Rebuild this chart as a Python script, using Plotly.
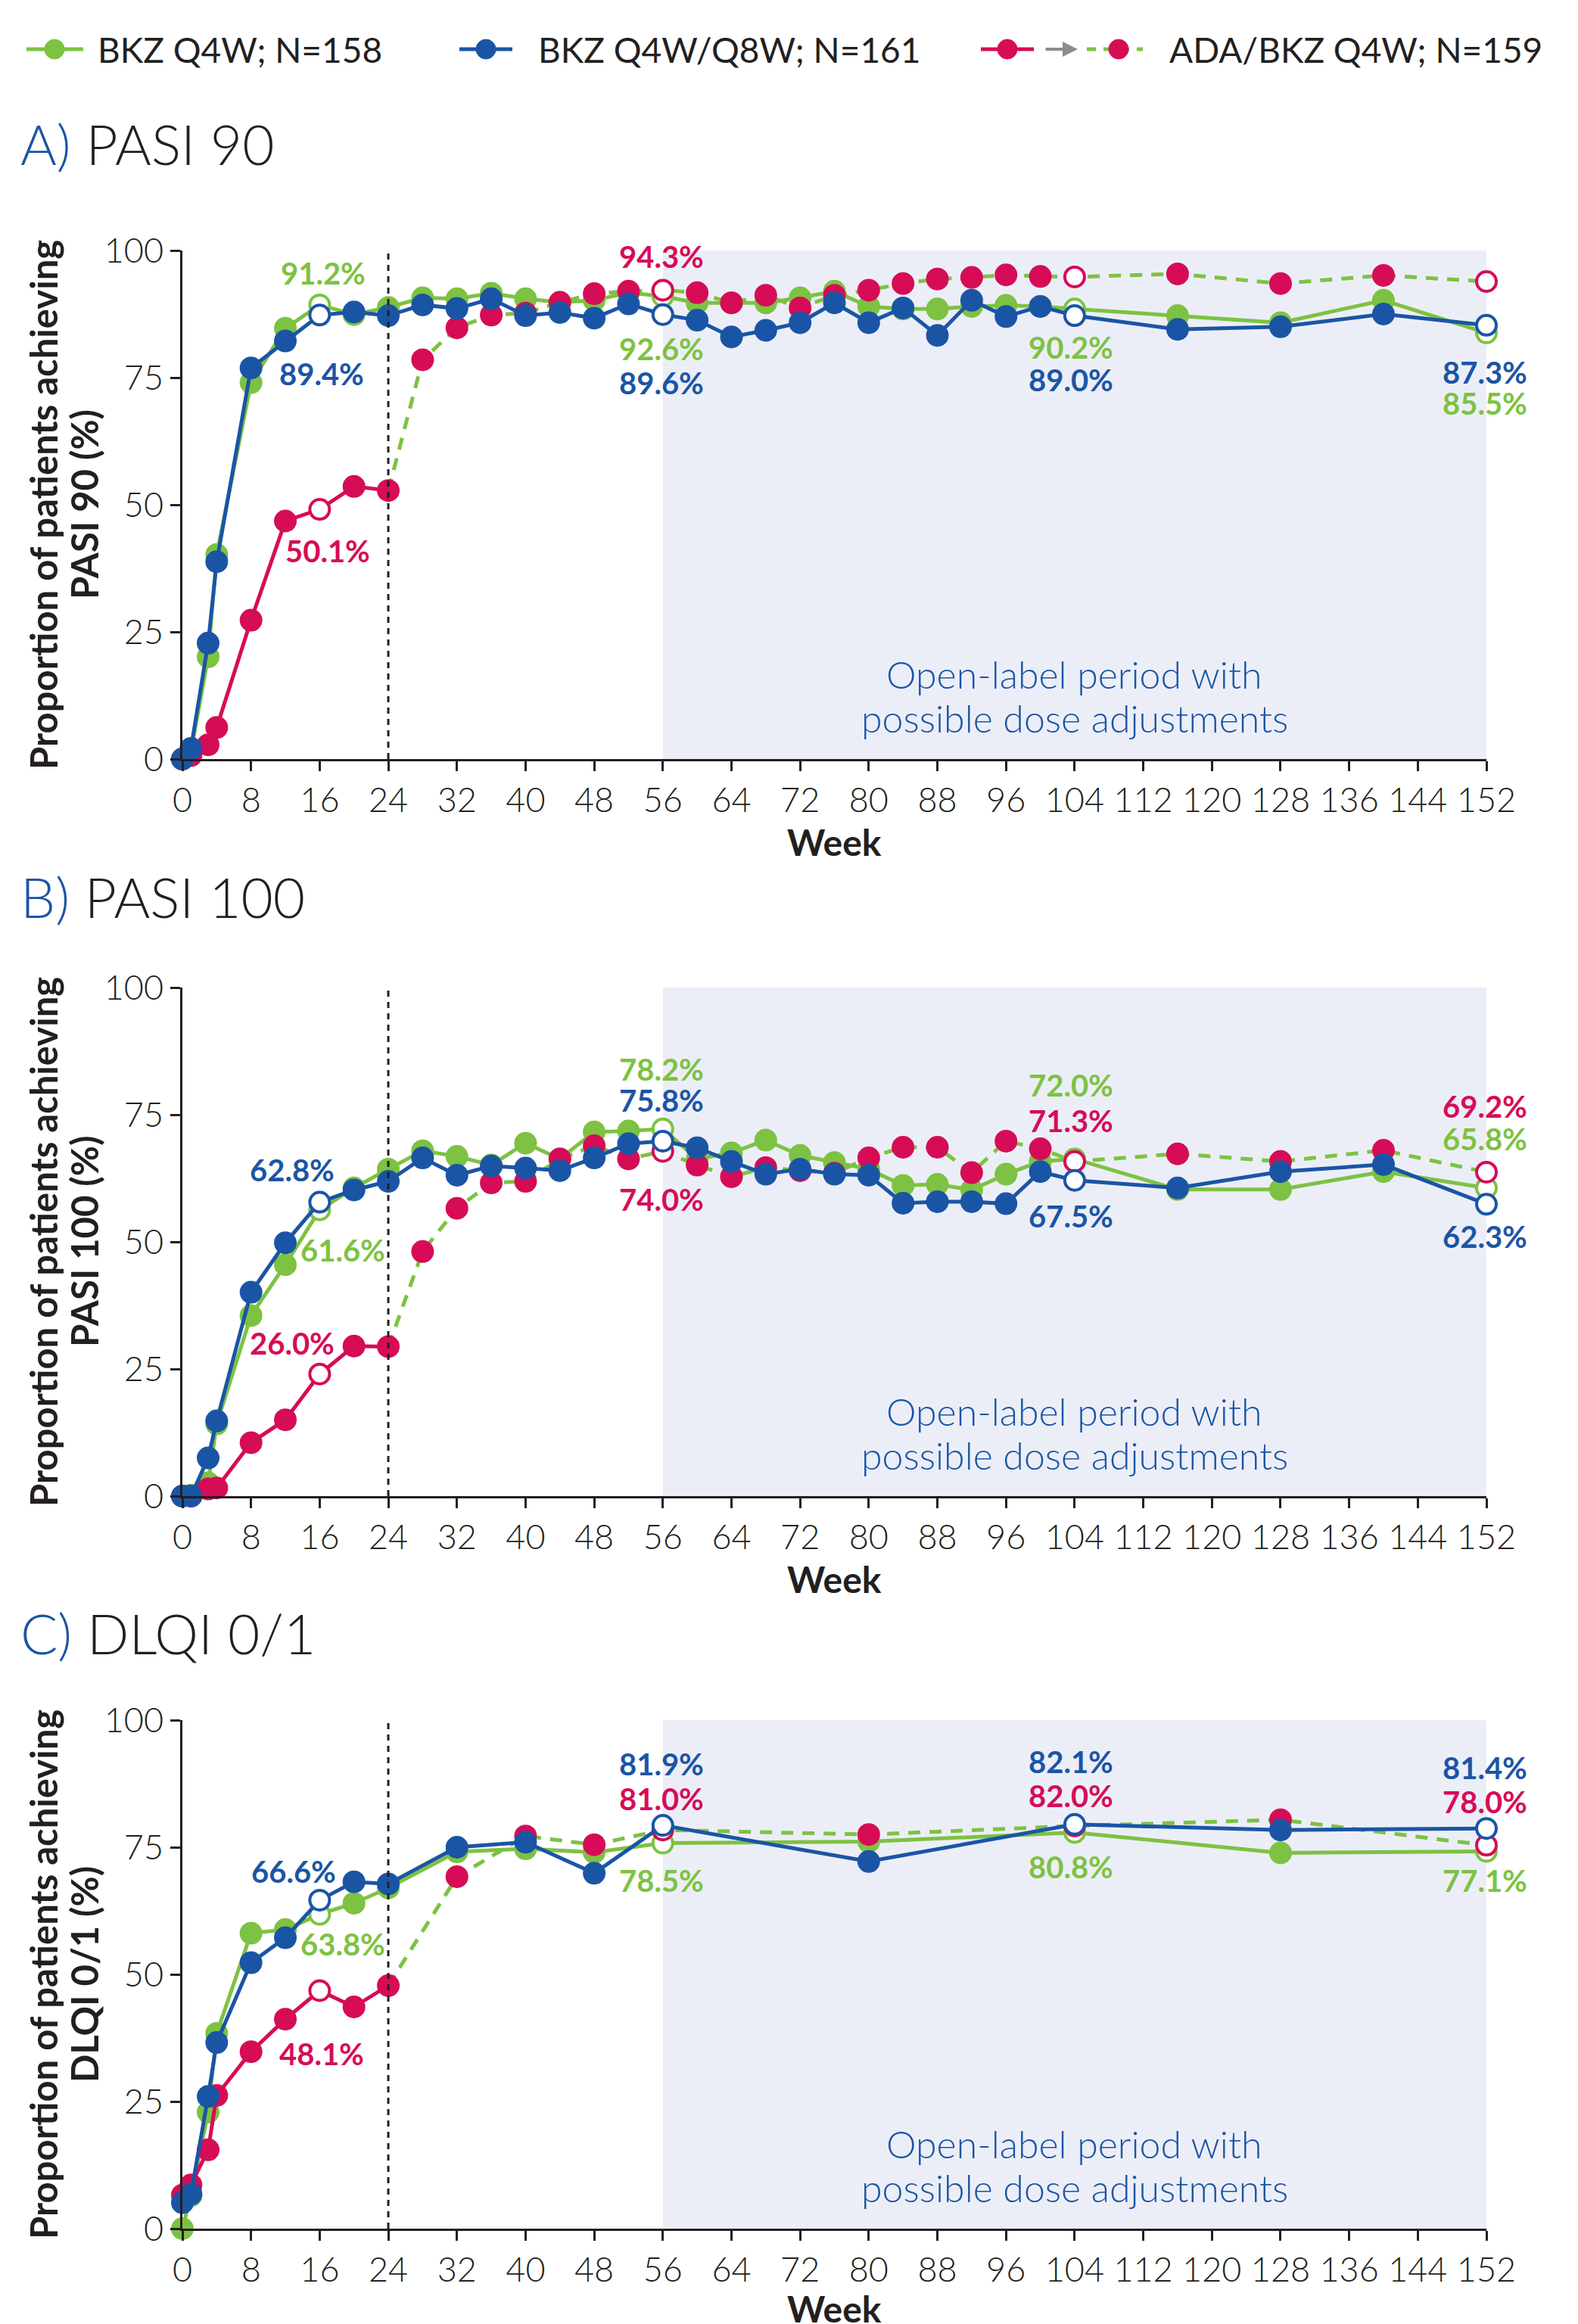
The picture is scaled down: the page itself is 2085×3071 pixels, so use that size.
import plotly.graph_objects as go

W, H = 2085, 3071
FONT = "Lato"
GREEN = "#7DC242"
BLUE = "#1A55A5"
RED = "#D60C57"
SHADE = "#ECEEF7"
INK = "#231F20"

# ---------------- data ----------------
weeks_pasi = [0, 1, 3, 4, 8, 12, 16, 20, 24, 28, 32, 36, 40, 44, 48, 52, 56, 60, 64, 68,
              72, 76, 80, 84, 88, 92, 96, 100, 104, 116, 128, 140, 152]
weeks_dlqi = [0, 1, 3, 4, 8, 12, 16, 20, 24, 32, 40, 48, 56, 80, 104, 128, 152]
open_weeks = [16, 56, 104, 152]
switch_week = 24

pasi90_bkz_q4w = [0, 1.5, 20.1, 40.2, 74.0, 84.7, 89.3, 87.4, 88.8, 90.7, 90.5, 91.6, 90.5, 89.8,
                  90.2, 91.7, 91.0, 89.7, 89.7, 89.7, 90.7, 92.0, 89.0, 88.5, 88.5, 89.0, 89.2,
                  89.0, 88.5, 87.2, 85.8, 90.2, 83.8]
pasi90_bkz_q8w = [0, 2.1, 22.8, 38.8, 76.9, 82.2, 87.3, 87.9, 87.2, 89.3, 88.6, 90.5, 87.2, 87.8,
                  86.7, 89.5, 87.4, 86.3, 83.0, 84.3, 85.8, 89.7, 85.8, 88.7, 83.3, 90.2, 87.0,
                  89.0, 87.2, 84.5, 85.0, 87.5, 85.3]
pasi90_ada_bkz = [0, 0.7, 2.8, 6.2, 27.3, 46.8, 49.1, 53.6, 52.8, 78.5, 84.8, 87.3, 87.7, 89.8,
                  91.5, 92.0, 92.2, 91.7, 89.7, 91.2, 88.7, 91.2, 92.2, 93.5, 94.4, 94.7, 95.2,
                  94.9, 94.8, 95.4, 93.5, 95.1, 93.9]

pasi100_bkz_q4w = [0, 0.2, 2.6, 14.2, 35.5, 45.5, 56.3, 60.6, 64.3, 67.9, 66.8, 65.1, 69.4, 66.3,
                   71.6, 71.8, 72.2, 66.3, 67.5, 70.0, 67.0, 65.6, 64.3, 61.1, 61.3, 60.2, 63.3,
                   65.8, 66.3, 60.3, 60.3, 63.8, 60.6]
pasi100_bkz_q8w = [0, 0, 7.5, 14.8, 40.1, 49.8, 57.8, 60.2, 61.9, 66.5, 63.1, 64.9, 64.5, 64.0,
                   66.5, 69.3, 69.8, 68.5, 65.8, 63.3, 64.3, 63.3, 63.1, 57.6, 57.9, 57.9, 57.5,
                   63.8, 62.1, 60.6, 63.8, 65.2, 57.4]
pasi100_ada_bkz = [0, 0, 1.4, 1.6, 10.5, 15.0, 24.0, 29.5, 29.4, 48.1, 56.6, 61.6, 61.9, 66.3,
                   68.9, 66.3, 67.8, 65.1, 62.8, 64.6, 64.0, 63.5, 66.5, 68.6, 68.6, 63.6, 69.8,
                   68.3, 65.8, 67.3, 65.8, 68.0, 63.7]

dlqi_bkz_q4w = [0, 6.5, 22.9, 38.4, 58.1, 58.8, 61.8, 64.0, 67.0, 74.1, 74.7, 74.0, 75.8, 76.1,
                77.9, 73.9, 74.2]
dlqi_bkz_q8w = [5.1, 6.8, 26.0, 36.6, 52.3, 57.2, 64.6, 68.2, 67.8, 75.0, 76.0, 69.9, 79.3, 72.2,
                79.5, 78.4, 78.7]
dlqi_ada_bkz = [6.6, 8.6, 15.5, 26.2, 34.8, 41.2, 46.8, 43.6, 47.8, 69.2, 77.2, 75.5, 78.4, 77.5,
                79.2, 80.4, 75.4]

legend_labels = ["BKZ Q4W; N=158", "BKZ Q4W/Q8W; N=161", "ADA/BKZ Q4W; N=159"]
panel_letters = ["A)", "B)", "C)"]
panel_names = ["PASI 90", "PASI 100", "DLQI 0/1"]
y_title_line1 = "Proportion of patients achieving"
y_title_line2 = ["PASI 90 (%)", "PASI 100 (%)", "DLQI 0/1 (%)"]
x_ticks = list(range(0, 153, 8))
y_ticks = [0, 25, 50, 75, 100]
shade_weeks = [56, 152]
shade_text = ["Open-label period with", "possible dose adjustments"]

# value labels: (panel, week, y, text, colour key)
value_labels = [
    (0, 16.4, 95.6, "91.2%", "g"), (0, 16.2, 75.7, "89.4%", "b"), (0, 16.9, 40.9, "50.1%", "r"),
    (0, 55.8, 98.8, "94.3%", "r"), (0, 55.8, 80.7, "92.6%", "g"), (0, 55.8, 74.0, "89.6%", "b"),
    (0, 103.6, 100.9, "97.1%", "r"), (0, 103.6, 81.0, "90.2%", "g"), (0, 103.6, 74.6, "89.0%", "b"),
    (0, 151.8, 100.3, "96.1%", "r"), (0, 151.8, 76.0, "87.3%", "b"), (0, 151.8, 69.9, "85.5%", "g"),
    (1, 12.8, 64.1, "62.8%", "b"), (1, 18.7, 48.4, "61.6%", "g"), (1, 12.8, 30.0, "26.0%", "r"),
    (1, 55.8, 84.0, "78.2%", "g"), (1, 55.8, 77.8, "75.8%", "b"), (1, 55.8, 58.3, "74.0%", "r"),
    (1, 103.6, 80.8, "72.0%", "g"), (1, 103.6, 73.8, "71.3%", "r"), (1, 103.6, 55.1, "67.5%", "b"),
    (1, 151.8, 76.7, "69.2%", "r"), (1, 151.8, 70.3, "65.8%", "g"), (1, 151.8, 51.0, "62.3%", "b"),
    (2, 13.0, 70.3, "66.6%", "b"), (2, 18.7, 56.0, "63.8%", "g"), (2, 16.2, 34.4, "48.1%", "r"),
    (2, 55.8, 91.3, "81.9%", "b"), (2, 55.8, 84.5, "81.0%", "r"), (2, 55.8, 68.5, "78.5%", "g"),
    (2, 103.6, 91.8, "82.1%", "b"), (2, 103.6, 85.1, "82.0%", "r"), (2, 103.6, 71.1, "80.8%", "g"),
    (2, 151.8, 90.7, "81.4%", "b"), (2, 151.8, 84.0, "78.0%", "r"), (2, 151.8, 68.5, "77.1%", "g"),
]

# ---------------- layout geometry (pixels, page coords) ----------------
OFF = 8  # browser body margin
PLOT_L, PLOT_R = 241, 1964
panels_px = [(331, 1003), (1305, 1977), (2273, 2945)]
title_y_px = [190, 1185, 2158]
week_y_px = [1112, 2086, 3050]


def PX(x):
    return (x - OFF) / W


def PY(y):
    return 1 - (y - OFF) / H


COLORS = {"g": GREEN, "b": BLUE, "r": RED}
MSIZE = 26
LW = 5

fig = go.Figure()
layout_axes = {}
annotations = []
shapes = []

panel_data = [
    (weeks_pasi, pasi90_bkz_q4w, pasi90_bkz_q8w, pasi90_ada_bkz),
    (weeks_pasi, pasi100_bkz_q4w, pasi100_bkz_q8w, pasi100_ada_bkz),
    (weeks_dlqi, dlqi_bkz_q4w, dlqi_bkz_q8w, dlqi_ada_bkz),
]


def marker_fill(weeks, col):
    return ["white" if w in open_weeks else col for w in weeks]


tickfont = dict(family=FONT, size=45, color=INK, weight=300)

for i, (wk, g, b, r) in enumerate(panel_data):
    n = i + 1
    xa = "x" if n == 1 else f"x{n}"
    ya = "y" if n == 1 else f"y{n}"
    top, bot = panels_px[i]
    layout_axes[f"xaxis{'' if n == 1 else n}"] = dict(
        domain=[PX(PLOT_L), PX(PLOT_R)], anchor=ya, range=[0, 152], automargin=False,
        tickvals=x_ticks, ticks="outside", ticklen=13, tickwidth=3, tickcolor=INK,
        showline=True, linewidth=3, linecolor=INK, showgrid=False, zeroline=False,
        tickfont=tickfont)
    layout_axes[f"yaxis{'' if n == 1 else n}"] = dict(
        domain=[PY(bot), PY(top)], anchor=xa, range=[0, 100], automargin=False,
        tickvals=y_ticks, ticks="outside", ticklen=13, tickwidth=3, tickcolor=INK,
        showline=True, linewidth=3, linecolor=INK, showgrid=False, zeroline=False,
        tickfont=tickfont)

    # shaded open-label period
    shapes.append(dict(type="rect", xref=xa, yref=ya, x0=shade_weeks[0], x1=shade_weeks[1],
                       y0=0, y1=100, fillcolor=SHADE, line=dict(width=0), layer="below"))
    # week-24 switch line
    shapes.append(dict(type="line", xref=xa, yref=ya, x0=switch_week, x1=switch_week,
                       y0=0, y1=100, line=dict(color=INK, width=3, dash="8px,7px"), layer="above"))

    post = [k for k, w in enumerate(wk) if w >= switch_week]
    pre = [k for k, w in enumerate(wk) if w <= switch_week]
    post2 = [k for k, w in enumerate(wk) if w > switch_week]
    # ADA -> BKZ dashed green connector (after switch)
    fig.add_trace(go.Scatter(x=[wk[k] for k in post], y=[r[k] for k in post], xaxis=xa, yaxis=ya,
                             mode="lines", line=dict(color=GREEN, width=LW, dash="16px,12px"),
                             showlegend=False, hoverinfo="skip"))
    # BKZ Q4W
    fig.add_trace(go.Scatter(x=wk, y=g, xaxis=xa, yaxis=ya, mode="lines+markers", cliponaxis=False,
                             line=dict(color=GREEN, width=LW),
                             marker=dict(size=MSIZE, color=marker_fill(wk, GREEN),
                                         line=dict(color=GREEN, width=4)),
                             showlegend=False))
    # ADA (pre-switch, red line)
    fig.add_trace(go.Scatter(x=[wk[k] for k in pre], y=[r[k] for k in pre], xaxis=xa, yaxis=ya,
                             mode="lines+markers", cliponaxis=False,
                             line=dict(color=RED, width=LW),
                             marker=dict(size=MSIZE, color=marker_fill([wk[k] for k in pre], RED),
                                         line=dict(color=RED, width=4)),
                             showlegend=False))
    # ADA/BKZ markers after switch
    fig.add_trace(go.Scatter(x=[wk[k] for k in post2], y=[r[k] for k in post2], xaxis=xa, yaxis=ya,
                             mode="markers", cliponaxis=False,
                             marker=dict(size=MSIZE, color=marker_fill([wk[k] for k in post2], RED),
                                         line=dict(color=RED, width=4)),
                             showlegend=False))
    # BKZ Q4W/Q8W
    fig.add_trace(go.Scatter(x=wk, y=b, xaxis=xa, yaxis=ya, mode="lines+markers", cliponaxis=False,
                             line=dict(color=BLUE, width=LW),
                             marker=dict(size=MSIZE, color=marker_fill(wk, BLUE),
                                         line=dict(color=BLUE, width=4)),
                             showlegend=False))

    # open-label text (two lines)
    for yy, line in zip([16.6, 8.1], shade_text):
        annotations.append(dict(xref=xa, yref=ya, x=104, y=yy, text=line, showarrow=False,
                                xanchor="center", yanchor="middle",
                                font=dict(family=FONT, size=50, color=BLUE, weight=300)))
    # panel title
    annotations.append(dict(xref="paper", yref="paper", x=PX(25), y=PY(title_y_px[i]),
                            xanchor="left", yanchor="middle", showarrow=False,
                            text=f"<span style='color:{BLUE}'>{panel_letters[i]}</span> {panel_names[i]}",
                            font=dict(family=FONT, size=73, color=INK, weight=300)))
    # y axis title (two lines)
    for xx, line in zip([57, 111], [y_title_line1, y_title_line2[i]]):
        annotations.append(dict(xref="paper", yref="paper", x=PX(xx), y=PY((top + bot) / 2),
                                xanchor="center", yanchor="middle",
                                textangle=-90, showarrow=False, text=f"<b>{line}</b>",
                                font=dict(family=FONT, size=49, color=INK)))
    # Week
    annotations.append(dict(xref="paper", yref="paper", x=PX((PLOT_L + PLOT_R) / 2),
                            y=PY(week_y_px[i]), xanchor="center", yanchor="middle",
                            showarrow=False, text="<b>Week</b>",
                            font=dict(family=FONT, size=48, color=INK)))

for p, x, y, t, c in value_labels:
    n = p + 1
    xa = "x" if n == 1 else f"x{n}"
    ya = "y" if n == 1 else f"y{n}"
    annotations.append(dict(xref=xa, yref=ya, x=x, y=y, text=f"<b>{t}</b>", showarrow=False,
                            xanchor="center", yanchor="middle",
                            font=dict(family=FONT, size=40, color=COLORS[c])))

# ---------------- custom legend ----------------
LEG_Y = 65


def leg_line(x0, x1, col, dash=None):
    shapes.append(dict(type="line", xref="paper", yref="paper", x0=PX(x0), x1=PX(x1),
                       y0=PY(LEG_Y), y1=PY(LEG_Y),
                       line=dict(color=col, width=LW, dash=dash or "solid")))


def leg_dot(xc, col):
    shapes.append(dict(type="circle", xref="paper", yref="paper", xsizemode="pixel",
                       ysizemode="pixel", xanchor=PX(xc), yanchor=PY(LEG_Y),
                       x0=-13, x1=13, y0=-13, y1=13, fillcolor=col, line=dict(color=col, width=1)))


leg_line(35, 110, GREEN); leg_dot(72, GREEN)
leg_line(607, 677, BLUE); leg_dot(642, BLUE)
leg_line(1296, 1366, RED); leg_dot(1331, RED)
leg_line(1436, 1510, GREEN, "12px,10px"); leg_dot(1478, RED)
annotations.append(dict(xref="paper", yref="paper", x=PX(1424), y=PY(LEG_Y), ax=-44, ay=0,
                        showarrow=True, arrowhead=2, arrowsize=1, arrowwidth=4,
                        arrowcolor="#8C8C8C", text=""))
for xt, lab in zip([127, 709, 1543], legend_labels):
    annotations.append(dict(xref="paper", yref="paper", x=PX(xt), y=PY(LEG_Y), xanchor="left",
                            yanchor="middle", showarrow=False, text=lab,
                            font=dict(family=FONT, size=46, color=INK)))

fig.update_layout(template="none", width=W, height=H, margin=dict(l=0, r=0, t=0, b=0, pad=0),
                  paper_bgcolor="white", plot_bgcolor="white", showlegend=False,
                  annotations=annotations, shapes=shapes, **layout_axes)
fig.write_html("out.html")
